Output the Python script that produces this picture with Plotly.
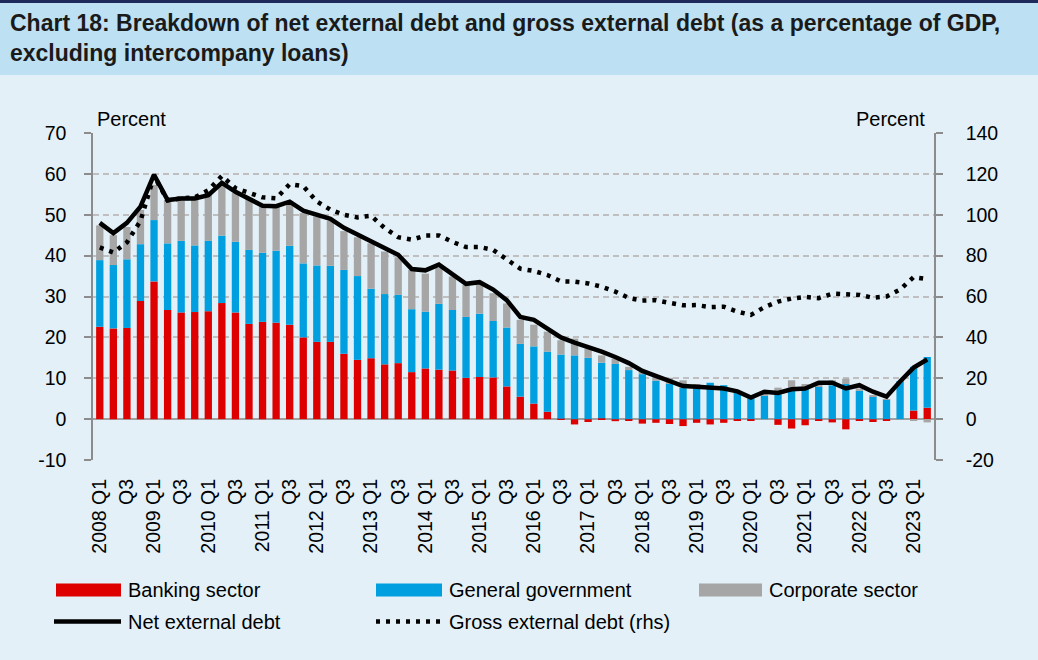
import plotly.graph_objects as go

# quarters 2008 Q1 .. 2023 Q2
quarters = [f"{y} Q{q}" for y in range(2008, 2024) for q in range(1, 5)][:62]

banking = [22.6, 22.2, 22.3, 28.9, 33.7, 26.7, 26.1, 26.2, 26.4, 28.4,
           26.1, 23.3, 23.8, 23.6, 23.1, 20.0, 18.9, 18.9, 16.0, 14.5,
           14.9, 13.4, 13.7, 11.5, 12.4, 12.1, 11.9, 10.1, 10.3, 10.2,
           8.0, 5.5, 3.8, 1.8, 0.1, -1.3, -0.7, 0.2, -0.5, -0.4,
           -1.1, -0.9, -1.2, -1.7, -0.9, -1.3, -0.9, -0.3, -0.3, 0.0,
           -1.4, -2.3, -1.5, -0.4, -0.8, -2.5, -0.3, -0.7, -0.4, 0.0,
           2.1, 2.8]
government = [16.3, 15.5, 16.8, 13.9, 15.0, 16.3, 17.5, 16.3, 17.2, 16.5,
              17.3, 18.1, 16.9, 17.6, 19.3, 18.1, 18.7, 18.6, 20.5, 20.5,
              17.0, 17.2, 16.7, 15.4, 13.9, 16.1, 14.8, 14.9, 15.5, 13.8,
              14.4, 12.9, 14.0, 14.7, 15.7, 15.6, 15.0, 13.6, 13.5, 12.0,
              11.0, 9.4, 8.6, 7.6, 7.4, 8.9, 8.3, 6.4, 5.1, 5.7,
              6.1, 7.7, 7.5, 7.9, 8.3, 8.6, 6.9, 5.5, 4.8, 9.3,
              10.7, 12.4]
corporate = [8.5, 7.3, 7.9, 8.4, 8.6, 10.6, 11.0, 12.0, 11.7, 12.4,
             11.9, 12.6, 11.3, 10.8, 10.4, 12.3, 12.0, 11.0, 9.5, 9.5,
             11.1, 10.4, 9.2, 9.6, 9.3, 8.8, 8.2, 7.8, 7.2, 6.8,
             5.9, 5.9, 5.3, 4.9, 3.5, 4.1, 2.3, 1.8, 1.3, 0.8,
             1.0, 1.0, 1.5, 1.9, 1.2, 0.0, 0.0, 0.3, 0.0, 1.1,
             1.6, 1.8, 1.1, 0.3, 1.2, 1.3, 0.6, 0.4, 0.1, 0.0,
             -0.4, -0.8]
net_debt = [48.0, 45.5, 48.0, 52.0, 59.8, 53.6, 54.0, 54.0, 54.8, 57.8,
            55.6, 53.9, 52.2, 52.1, 53.2, 51.0, 50.0, 49.0, 46.8, 45.1,
            43.6, 41.6, 40.2, 36.7, 36.4, 37.8, 35.3, 33.1, 33.5, 31.7,
            29.1, 25.0, 24.3, 22.3, 20.0, 18.7, 17.7, 16.5, 15.2, 13.7,
            11.8, 10.6, 9.4, 8.1, 7.9, 7.7, 7.5, 6.8, 5.3, 6.7,
            6.4, 7.3, 7.5, 8.9, 8.9, 7.5, 8.3, 6.7, 5.5, 9.2,
            12.6, 14.6]
gross_debt = [84.0, 81.5, 86.5, 97.0, 119.0, 107.0, 108.0, 108.5, 112.0, 119.0,
              113.0, 110.8, 108.5, 108.0, 115.0, 114.0, 106.5, 102.5, 100.0, 98.7,
              99.5, 93.5, 89.0, 87.8, 89.8, 89.9, 86.7, 84.2, 84.2, 82.8,
              78.0, 73.6, 72.5, 70.5, 67.4, 67.3, 66.4, 64.8, 62.4, 59.3,
              58.0, 58.2, 56.9, 55.7, 55.8, 54.8, 55.0, 52.6, 51.0, 54.8,
              57.5, 59.0, 59.8, 59.2, 61.4, 61.2, 60.8, 59.4, 60.0, 63.4,
              69.5, 68.5]

tick_vals = quarters[::2]
tick_text = [q if q.endswith("Q1") else "Q3" for q in tick_vals]

# axis ticks (plain hyphen for negatives, as in the original)
left_ticks = [-10, 0, 10, 20, 30, 40, 50, 60, 70]
right_ticks = [-20, 0, 20, 40, 60, 80, 100, 120, 140]

RED = "#DE0000"
BLUE = "#00A0E0"
GREY = "#A6A6A6"
BG = "#E3F0F7"
BAND = "#BDE0F2"
GRID = "#BFBFBF"
AXIS = "#8C8C8C"
FONT = "Liberation Sans, Arial, sans-serif"

W, H = 1038, 660
L, R, T, B = 93, 104, 133, 200


def px(x):
    return (x - L) / (W - L - R)


def py(y):
    return (H - B - y) / (H - T - B)


fig = go.Figure()
fig.add_trace(go.Bar(x=quarters, y=banking, name="Banking sector",
                     marker=dict(color=RED, line=dict(width=0))))
fig.add_trace(go.Bar(x=quarters, y=government, name="General government",
                     marker=dict(color=BLUE, line=dict(width=0))))
fig.add_trace(go.Bar(x=quarters, y=corporate, name="Corporate sector",
                     marker=dict(color=GREY, line=dict(width=0))))
fig.add_trace(go.Scatter(x=quarters, y=net_debt, name="Net external debt",
                         mode="lines", line=dict(color="black", width=4.5)))
fig.add_trace(go.Scatter(x=quarters, y=gross_debt, name="Gross external debt (rhs)",
                         mode="lines", yaxis="y2",
                         line=dict(color="black", width=4.5, dash="4px,6px")))

shapes = [
    # title band and top rule
    dict(type="rect", xref="paper", yref="paper", x0=px(0), x1=px(W), y0=py(75), y1=py(3),
         fillcolor=BAND, line=dict(width=0), layer="below"),
    dict(type="rect", xref="paper", yref="paper", x0=px(0), x1=px(W), y0=py(3), y1=py(0),
         fillcolor="#1F2A5C", line=dict(width=0), layer="below"),
]

# hand-made legend
legend_items = [
    ("Banking sector", "rect", RED, 56, 121, 590),
    ("General government", "rect", BLUE, 376, 442, 590),
    ("Corporate sector", "rect", GREY, 699, 762, 590),
    ("Net external debt", "solid", "black", 54, 121, 621.5),
    ("Gross external debt (rhs)", "dot", "black", 376, 442, 621.5),
]
annotations = []
for label, kind, color, x0, x1, yc in legend_items:
    if kind == "rect":
        shapes.append(dict(type="rect", xref="paper", yref="paper",
                           x0=px(x0), x1=px(x1), y0=py(yc + 6.5), y1=py(yc - 6.5),
                           fillcolor=color, line=dict(width=0)))
    else:
        shapes.append(dict(type="line", xref="paper", yref="paper",
                           x0=px(x0), x1=px(x1), y0=py(yc), y1=py(yc),
                           line=dict(color=color, width=4.5,
                                     dash="solid" if kind == "solid" else "4px,6px")))
    annotations.append(dict(text=label, xref="paper", yref="paper", x=px(x1 + 5), y=py(yc),
                            xanchor="left", yanchor="middle", showarrow=False,
                            font=dict(size=20, color="black", family=FONT)))

annotations += [
    dict(text="<b>Chart 18: Breakdown of net external debt and gross external debt (as a percentage of GDP,"
              "<br>excluding intercompany loans)</b>",
         xref="paper", yref="paper", x=px(8), y=py(8), xanchor="left", yanchor="top",
         align="left", showarrow=False,
         font=dict(size=23, color="#1A1A1A", family=FONT)),
    dict(text="Percent", xref="paper", yref="paper", x=px(95), y=py(119),
         xanchor="left", yanchor="middle", showarrow=False,
         font=dict(size=20, color="black", family=FONT)),
    dict(text="Percent", xref="paper", yref="paper", x=px(927), y=py(119),
         xanchor="right", yanchor="middle", showarrow=False,
         font=dict(size=20, color="black", family=FONT)),
]

fig.update_layout(
    width=W, height=H,
    margin=dict(l=L, r=R, t=T, b=B),
    paper_bgcolor=BG, plot_bgcolor=BG,
    barmode="relative", bargap=0.46,
    showlegend=False,
    font=dict(family=FONT, size=19.5, color="black"),
    shapes=shapes,
    annotations=annotations,
    xaxis=dict(
        type="category", range=[-0.5, 61.5],
        tickmode="array", tickvals=tick_vals, ticktext=tick_text,
        tickangle=-90, ticks="", ticklabelstandoff=14,
        showgrid=False, showline=False, zeroline=False,
    ),
    yaxis=dict(
        range=[-10, 70],
        tickmode="array", tickvals=left_ticks, ticktext=[str(v) for v in left_ticks],
        showgrid=True, gridcolor=GRID, griddash="6px,4px", gridwidth=1.5,
        zeroline=True, zerolinecolor="#A0A0A0", zerolinewidth=2,
        showline=True, linecolor=AXIS, linewidth=1.5,
        ticks="outside", ticklen=7, tickcolor=AXIS, tickwidth=1.5,
        ticklabelstandoff=14,
    ),
    yaxis2=dict(
        range=[-20, 140],
        tickmode="array", tickvals=right_ticks, ticktext=[str(v) for v in right_ticks],
        overlaying="y", side="right",
        showgrid=False, zeroline=False,
        showline=True, linecolor=AXIS, linewidth=1.5,
        ticks="outside", ticklen=7, tickcolor=AXIS, tickwidth=1.5,
        ticklabelstandoff=19,
    ),
)

# drop the browser's default 8px body margin so the figure sits at 0,0
fig.write_html("out.html", config={"displayModeBar": False},
               post_script="document.body.style.margin='0';")
